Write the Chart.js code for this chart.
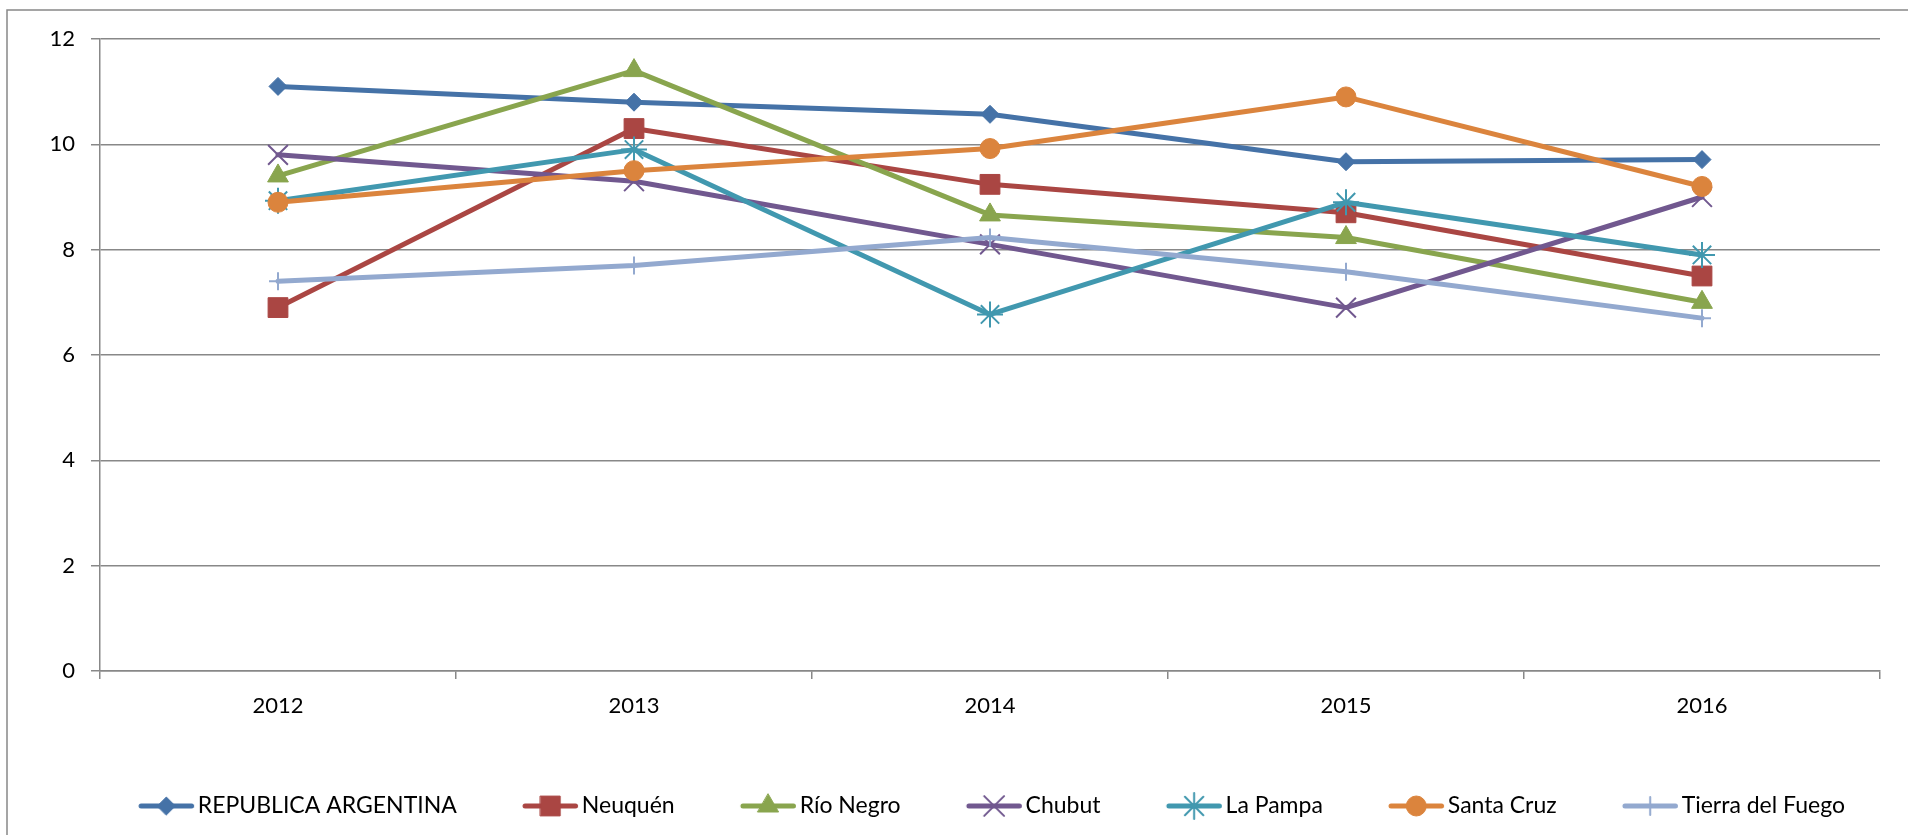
<!DOCTYPE html>
<html>
<head>
<meta charset="utf-8">
<script src="https://cdn.jsdelivr.net/npm/chart.js"></script>
<style>
  html, body { margin: 0; padding: 0; background: #fff; }
  #wrap { position: relative; width: 1908px; height: 835px; }
</style>
</head>
<body>
<div id="wrap"><canvas id="grafico" width="1908" height="835"></canvas></div>
<script>
// ---- datos ----
const anios = ["2012", "2013", "2014", "2015", "2016"];
const nombres = ["REPUBLICA ARGENTINA", "Neuquén", "Río Negro", "Chubut", "La Pampa", "Santa Cruz", "Tierra del Fuego"];

const republica = [11.1, 10.8, 10.57, 9.67, 9.71];
const neuquen   = [6.9, 10.3, 9.24, 8.7, 7.5];
const rioNegro  = [9.4, 11.4, 8.66, 8.23, 7.0];
const chubut    = [9.8, 9.3, 8.1, 6.9, 9.0];
const laPampa   = [8.93, 9.9, 6.77, 8.9, 7.9];
const santaCruz = [8.9, 9.5, 9.92, 10.9, 9.2];
const tierra    = [7.4, 7.7, 8.23, 7.58, 6.7];

const ticksY = [0, 2, 4, 6, 8, 10, 12];

// ---- estilo ----
const colores = ["#4572A7", "#AA4643", "#89A54E", "#71588F", "#4198AF", "#DB843D", "#93A9CF"];
const marcas  = ["rectRot", "rect", "triangle", "crossRot", "star", "circle", "cross"];
const radios  = [9, 14, 12, 14, 13, 10, 9];
const FUENTE = "Lato, 'Open Sans', sans-serif";
const GRIS = "#888";

const series = [republica, neuquen, rioNegro, chubut, laPampa, santaCruz, tierra];

function esLinea(m) { return m === "cross" || m === "crossRot" || m === "star"; }

// icono de leyenda: linea + marcador (como Excel)
function iconoLeyenda(i) {
  const c = document.createElement("canvas");
  c.width = 96; c.height = 28;
  const g = c.getContext("2d");
  g.strokeStyle = colores[i];
  g.fillStyle = colores[i];
  g.lineWidth = 5;
  g.lineCap = "round";
  g.beginPath();
  g.moveTo(42, 14);
  g.lineTo(92.5, 14);
  g.stroke();
  g.lineWidth = esLinea(marcas[i]) ? 2 : 1;
  Chart.helpers.drawPoint(g, {
    pointStyle: marcas[i], rotation: 0, radius: radios[i],
    borderWidth: g.lineWidth
  }, 67.25, 14);
  return c;
}

// marco exterior gris
const marco = {
  id: "marco",
  beforeDraw(chart) {
    const ctx = chart.ctx;
    ctx.save();
    ctx.strokeStyle = GRIS;
    ctx.lineWidth = 1.5;
    ctx.strokeRect(7, 10, 2400, 2400);
    ctx.restore();
  }
};

const datasets = series.map((datos, i) => ({
  label: nombres[i],
  data: datos,
  borderColor: colores[i],
  backgroundColor: colores[i],
  borderWidth: 5,
  borderCapStyle: "round",
  borderJoinStyle: "round",
  pointStyle: marcas[i],
  pointRadius: radios[i],
  pointHoverRadius: radios[i],
  pointBorderWidth: esLinea(marcas[i]) ? 2 : 1,
  pointBackgroundColor: colores[i],
  pointBorderColor: colores[i],
  tension: 0,
  order: series.length - i
}));

const ctx = document.getElementById("grafico").getContext("2d");
new Chart(ctx, {
  type: "line",
  data: { labels: anios, datasets },
  plugins: [marco],
  options: {
    responsive: false,
    animation: false,
    layout: { padding: { left: 8, right: 28, top: 39, bottom: 7.5 } },
    plugins: {
      tooltip: { enabled: false },
      legend: {
        position: "bottom",
        align: "end",
        labels: {
          usePointStyle: true,
          pointStyleWidth: 78.5,
          padding: 35,
          color: "#000",
          font: { family: FUENTE, size: 23 },
          generateLabels: (chart) => chart.data.datasets.map((ds, i) => ({
            text: ds.label,
            pointStyle: iconoLeyenda(i),
            fillStyle: "transparent",
            strokeStyle: "transparent",
            lineWidth: 0,
            fontColor: "#000",
            hidden: !chart.isDatasetVisible(i),
            datasetIndex: i
          }))
        }
      }
    },
    scales: {
      x: {
        offset: true,
        grid: { offset: true, drawOnChartArea: false, drawTicks: true, tickLength: 8, color: GRIS, lineWidth: 1.5 },
        border: { display: true, color: GRIS, width: 1.5 },
        ticks: { color: "#000", padding: 14, font: { family: FUENTE, size: 22 }, maxRotation: 0 },
        afterFit: (s) => { s.height = 88.5; }
      },
      y: {
        min: 0,
        max: 12,
        afterBuildTicks: (s) => { s.ticks = ticksY.map(v => ({ value: v })); },
        grid: { color: GRIS, lineWidth: 1.5, tickLength: 9 },
        border: { display: true, color: GRIS, width: 1.5 },
        ticks: { color: "#000", padding: 16, font: { family: FUENTE, size: 22 } },
        afterFit: (s) => { s.width = 92; }
      }
    }
  }
});
</script>
</body>
</html>
